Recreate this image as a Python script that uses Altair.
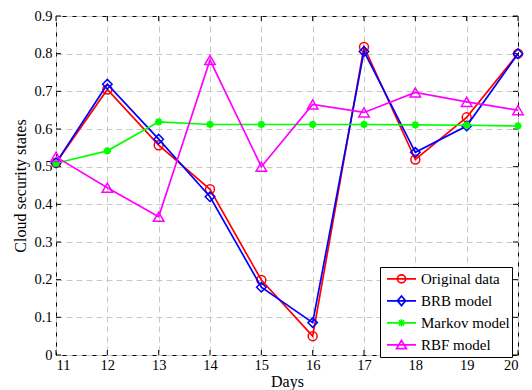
import altair as alt
import pandas as pd

# Days on the horizontal axis
days = [11, 12, 13, 14, 15, 16, 17, 18, 19, 20]

# Cloud security state per day for each series
original = [0.510, 0.705, 0.557, 0.440, 0.199, 0.050, 0.818, 0.519, 0.631, 0.800]
brb = [0.510, 0.719, 0.573, 0.420, 0.180, 0.086, 0.806, 0.538, 0.608, 0.800]
markov = [0.509, 0.542, 0.619, 0.612, 0.612, 0.612, 0.612, 0.611, 0.610, 0.608]
rbf = [0.526, 0.444, 0.367, 0.783, 0.500, 0.665, 0.644, 0.697, 0.672, 0.650]

series_names = ["Original data", "BRB model", "Markov model", "RBF model"]
series_values = [original, brb, markov, rbf]
series_colors = ["#ff0000", "#0000ff", "#00ff00", "#ff00ff"]

x_ticks = [11, 12, 13, 14, 15, 16, 17, 18, 19, 20]
y_ticks = [0, 0.1, 0.2, 0.3, 0.4, 0.5, 0.6, 0.7, 0.8, 0.9]

W, H = 462, 339
FONT = "Liberation Serif"
TICK_LEN = 5

# Marker glyphs (unit square paths) for the data points
asterisk = "M-1,0L1,0M0,-1L0,1M-0.7,-0.7L0.7,0.7M-0.7,0.7L0.7,-0.7"
marker_shapes = ["circle", "diamond", asterisk, "triangle-up"]
marker_sizes = [80, 90, 55, 110]
marker_strokes = [1.5, 1.5, 2.2, 1.5]

# Legend glyphs: a line segment with the marker drawn on it
legend_paths = [
    "M-1,0L1,0M-0.28,0A0.28,0.28 0 1,0 0.28,0A0.28,0.28 0 1,0 -0.28,0",
    "M-1,0L1,0M0,-0.33L0.28,0L0,0.33L-0.28,0Z",
    "M-1,0L1,0M-0.25,0L0.25,0M0,-0.25L0,0.25M-0.18,-0.18L0.18,0.18M-0.18,0.18L0.18,-0.18",
    "M-1,0L1,0M0,-0.3L0.34,0.26L-0.34,0.26Z",
]

x_scale = alt.Scale(domain=[11, 20], nice=False, zero=False)
y_scale = alt.Scale(domain=[0, 0.9], nice=False, zero=True)

x_axis = alt.Axis(
    values=x_ticks, title="Days", grid=True, ticks=False, domain=False,
    labelPadding=3, titlePadding=2, format="d",
)
y_axis = alt.Axis(
    values=y_ticks, title="Cloud security states", grid=True, ticks=False, domain=False,
    labelPadding=4, titlePadding=5,
    labelExpr="datum.value == 0 ? '0' : format(datum.value, '.1f')",
)

layers = []

# Inward tick marks on all four sides of the frame
xt = pd.DataFrame({"t": x_ticks})
yt = pd.DataFrame({"t": y_ticks})
tick_style = dict(color="black", strokeWidth=1)
layers.append(alt.Chart(xt).mark_rule(**tick_style).encode(
    x=alt.X("t:Q", scale=x_scale, axis=x_axis), y=alt.value(H), y2=alt.value(H - TICK_LEN)))
layers.append(alt.Chart(xt).mark_rule(**tick_style).encode(
    x=alt.X("t:Q", scale=x_scale, axis=x_axis), y=alt.value(0), y2=alt.value(TICK_LEN)))
layers.append(alt.Chart(yt).mark_rule(**tick_style).encode(
    y=alt.Y("t:Q", scale=y_scale, axis=y_axis), x=alt.value(0), x2=alt.value(TICK_LEN)))
layers.append(alt.Chart(yt).mark_rule(**tick_style).encode(
    y=alt.Y("t:Q", scale=y_scale, axis=y_axis), x=alt.value(W - TICK_LEN), x2=alt.value(W)))

# One line + marker layer per series, drawn in series order
for name, vals, col, shp, sz, sw in zip(series_names, series_values, series_colors,
                                        marker_shapes, marker_sizes, marker_strokes):
    df = pd.DataFrame({"day": days, "value": vals})
    enc = dict(
        x=alt.X("day:Q", scale=x_scale, axis=x_axis),
        y=alt.Y("value:Q", scale=y_scale, axis=y_axis),
    )
    layers.append(alt.Chart(df).mark_line(color=col, strokeWidth=1.7).encode(**enc))
    layers.append(alt.Chart(df).mark_point(
        shape=shp, size=sz, color=col, filled=False, strokeWidth=sw, opacity=1
    ).encode(**enc))

# Legend built from the series list (no marks drawn for this layer)
legend_props = dict(
    title=None, orient="none", legendX=324, legendY=251, direction="vertical",
    fillColor="white", strokeColor="black", padding=2,
    labelFont=FONT, labelFontSize=15, labelColor="black", labelOffset=4,
    symbolSize=841, symbolStrokeWidth=1.7, symbolOffset=4, clipHeight=19.7,
)
legend_df = pd.DataFrame({"series": series_names})
layers.append(
    alt.Chart(legend_df).transform_filter("false").mark_point(
        filled=False, strokeWidth=1.7, opacity=1
    ).encode(
        color=alt.Color("series:N", scale=alt.Scale(domain=series_names, range=series_colors),
                        legend=alt.Legend(**legend_props)),
        shape=alt.Shape("series:N", scale=alt.Scale(domain=series_names, range=legend_paths),
                        legend=alt.Legend(**legend_props)),
    )
)

chart = alt.layer(*layers).properties(
    width=W, height=H,
    autosize="none",
    padding={"left": 56, "top": 16, "right": 14, "bottom": 35},
    background="white",
).configure_view(
    stroke="black", strokeWidth=1,
).configure_axis(
    labelFont=FONT, labelFontSize=14.5, labelColor="black",
    titleFont=FONT, titleFontSize=16, titleColor="black", titleFontWeight="normal",
    gridColor="#c8c8c8", gridDash=[6, 4], gridWidth=1,
).configure_legend(
    labelFont=FONT, labelFontSize=15, labelColor="black",
)

chart.save("out.html", embed_options={"renderer": "svg", "actions": False})
